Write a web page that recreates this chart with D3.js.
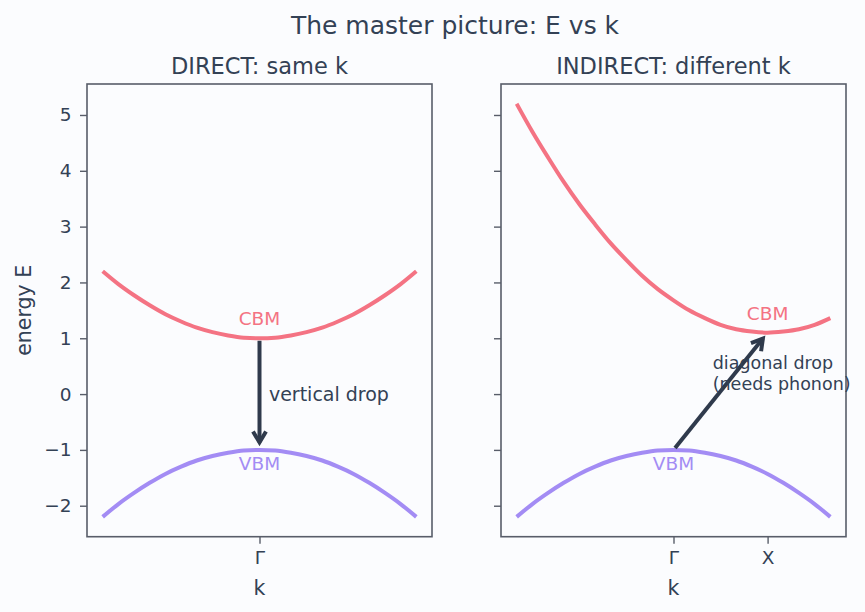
<!DOCTYPE html>
<html>
<head>
<meta charset="utf-8">
<script src="https://cdn.jsdelivr.net/npm/d3@7"></script>
<style>
  body { margin: 0; background: #fbfcfe; }
  svg { display: block; font-family: 'DejaVu Sans', sans-serif; }
</style>
</head>
<body>
<div id="chart"></div>
<script>
'use strict';

// k grid shared by every band (units of the zone)
var kValues = [-1, -0.9, -0.8, -0.7, -0.6, -0.5, -0.4, -0.3, -0.2, -0.1, 0,
               0.1, 0.2, 0.3, 0.4, 0.5, 0.6, 0.7, 0.8, 0.9, 1];

// energies
var directCB = [2.20, 1.97, 1.77, 1.59, 1.43, 1.30, 1.19, 1.11, 1.05, 1.01, 1.00,
                1.01, 1.05, 1.11, 1.19, 1.30, 1.43, 1.59, 1.77, 1.97, 2.20];
var directVB = [-2.20, -1.97, -1.77, -1.59, -1.43, -1.30, -1.19, -1.11, -1.05, -1.01, -1.00,
                -1.01, -1.05, -1.11, -1.19, -1.30, -1.43, -1.59, -1.77, -1.97, -2.20];
var indirectCB = [5.20, 4.70, 4.24, 3.80, 3.40, 3.04, 2.70, 2.40, 2.12, 1.88, 1.68,
                  1.50, 1.36, 1.24, 1.16, 1.12, 1.10, 1.12, 1.16, 1.24, 1.36];
var indirectVB = directVB.slice();

var yTicks = [-2, -1, 0, 1, 2, 3, 4, 5];
var directTicks = [{k: 0, label: 'Γ'}];
var indirectTicks = [{k: 0, label: 'Γ'}, {k: 0.6, label: 'X'}];

// band extrema [k, E]
var directCBM = [0, 1.0], directVBM = [0, -1.0];
var indirectCBM = [0.6, 1.1], indirectVBM = [0, -1.0];

var panels = [
  {title: 'DIRECT: same k', cb: directCB, vb: directVB, ticks: directTicks,
   cbm: directCBM, vbm: directVBM, arrowFrom: directCBM, arrowTo: directVBM,
   note: ['vertical drop'], noteAt: [0.06, 0], noteSize: 19, left: 87, yLabels: true},
  {title: 'INDIRECT: different k', cb: indirectCB, vb: indirectVB, ticks: indirectTicks,
   cbm: indirectCBM, vbm: indirectVBM, arrowFrom: indirectVBM, arrowTo: indirectCBM,
   note: ['diagonal drop', '(needs phonon)'], noteAt: [0.25, 0.37], noteSize: 17.5, left: 501, yLabels: false}
];

var W = 865, H = 612;
var plotW = 345, plotTop = 84, plotBottom = 536.7;
var textColor = '#334155', spineColor = '#585d69';
var cbColor = '#f47383', vbColor = '#a38cf4', arrowColor = '#2f3a4c';

var svg = d3.select('#chart').append('svg')
  .attr('width', W).attr('height', H);

svg.append('rect').attr('width', W).attr('height', H).attr('fill', '#fbfcfe');

svg.append('text')
  .attr('x', 455).attr('y', 34)
  .attr('text-anchor', 'middle')
  .attr('font-size', 25)
  .attr('fill', textColor)
  .text('The master picture: E vs k');

var y = d3.scaleLinear().domain([-2.555, 5.555]).range([plotBottom, plotTop]);

panels.forEach(function(p) {
  var x = d3.scaleLinear().domain([-1.1, 1.1]).range([p.left, p.left + plotW]);
  var g = svg.append('g');

  var line = d3.line()
    .x(function(d, i) { return x(kValues[i]); })
    .y(function(d) { return y(d); })
    .curve(d3.curveMonotoneX);

  g.append('path').datum(p.cb)
    .attr('d', line).attr('fill', 'none')
    .attr('stroke', cbColor).attr('stroke-width', 4);
  g.append('path').datum(p.vb)
    .attr('d', line).attr('fill', 'none')
    .attr('stroke', vbColor).attr('stroke-width', 4);

  // axes
  var yAxis = d3.axisLeft(y).tickValues(yTicks).tickSize(7).tickPadding(8.5)
    .tickFormat(function(d) { return p.yLabels ? (d < 0 ? '\u2212' + (-d) : d) : ''; });
  var yG = g.append('g').attr('transform', 'translate(' + p.left + ',0)').call(yAxis);

  var xAxis = d3.axisBottom(x).tickValues(p.ticks.map(function(t) { return t.k; }))
    .tickSize(7).tickPadding(7)
    .tickFormat(function(d, i) { return p.ticks[i].label; });
  var xG = g.append('g').attr('transform', 'translate(0,' + plotBottom + ')').call(xAxis);

  [yG, xG].forEach(function(ax) {
    ax.select('.domain').remove();
    ax.selectAll('line').attr('stroke', spineColor).attr('stroke-width', 1.4);
    ax.selectAll('text').attr('fill', textColor).attr('font-size', 18.5)
      .attr('font-family', 'DejaVu Sans, sans-serif');
  });

  g.append('rect')
    .attr('x', p.left).attr('y', plotTop)
    .attr('width', plotW).attr('height', plotBottom - plotTop)
    .attr('fill', 'none').attr('stroke', spineColor).attr('stroke-width', 1.6);

  g.append('text')
    .attr('x', p.left + plotW / 2).attr('y', 73.5)
    .attr('text-anchor', 'middle').attr('font-size', 22.5)
    .attr('fill', textColor).text(p.title);

  g.append('text')
    .attr('x', p.left + plotW / 2).attr('y', 595)
    .attr('text-anchor', 'middle').attr('font-size', 20.5)
    .attr('fill', textColor).text('k');

  // band-edge labels
  g.append('text')
    .attr('x', x(p.cbm[0])).attr('y', y(p.cbm[1] + 0.35))
    .attr('dy', '0.35em').attr('text-anchor', 'middle').attr('font-size', 18.5)
    .attr('fill', cbColor).text('CBM');
  g.append('text')
    .attr('x', x(p.vbm[0])).attr('y', y(p.vbm[1] - 0.25))
    .attr('dy', '0.35em').attr('text-anchor', 'middle').attr('font-size', 18.5)
    .attr('fill', vbColor).text('VBM');

  // transition arrow, shrunk a bit at both ends
  var x0 = x(p.arrowFrom[0]), y0 = y(p.arrowFrom[1]);
  var x1 = x(p.arrowTo[0]), y1 = y(p.arrowTo[1]);
  var len = Math.hypot(x1 - x0, y1 - y0), ux = (x1 - x0) / len, uy = (y1 - y0) / len;
  var sx = x0 + ux * 2.5, sy = y0 + uy * 2.5;
  var tx = x1 - ux * 7.5, ty = y1 - uy * 7.5;
  var hl = 11, hw = 6.5;
  g.append('path')
    .attr('d', 'M' + sx + ',' + sy + 'L' + tx + ',' + ty)
    .attr('stroke', arrowColor).attr('stroke-width', 4).attr('fill', 'none');
  g.append('path')
    .attr('d', 'M' + (tx - ux * hl - uy * hw) + ',' + (ty - uy * hl + ux * hw) +
               'L' + tx + ',' + ty +
               'L' + (tx - ux * hl + uy * hw) + ',' + (ty - uy * hl - ux * hw))
    .attr('stroke', arrowColor).attr('stroke-width', 4).attr('fill', 'none')
    .attr('stroke-linejoin', 'miter');

  var note = g.append('text')
    .attr('x', x(p.noteAt[0])).attr('y', y(p.noteAt[1]))
    .attr('font-size', p.noteSize).attr('fill', textColor);
  p.note.forEach(function(s, i) {
    note.append('tspan')
      .attr('x', x(p.noteAt[0]))
      .attr('dy', i === 0 ? (0.35 - (p.note.length - 1) * 0.6) + 'em' : '1.2em')
      .text(s);
  });
});

svg.append('text')
  .attr('transform', 'translate(24,' + (plotTop + plotBottom) / 2 + ') rotate(-90)')
  .attr('dy', '0.35em')
  .attr('text-anchor', 'middle').attr('font-size', 20.5)
  .attr('fill', textColor).text('energy E');
</script>
</body>
</html>
